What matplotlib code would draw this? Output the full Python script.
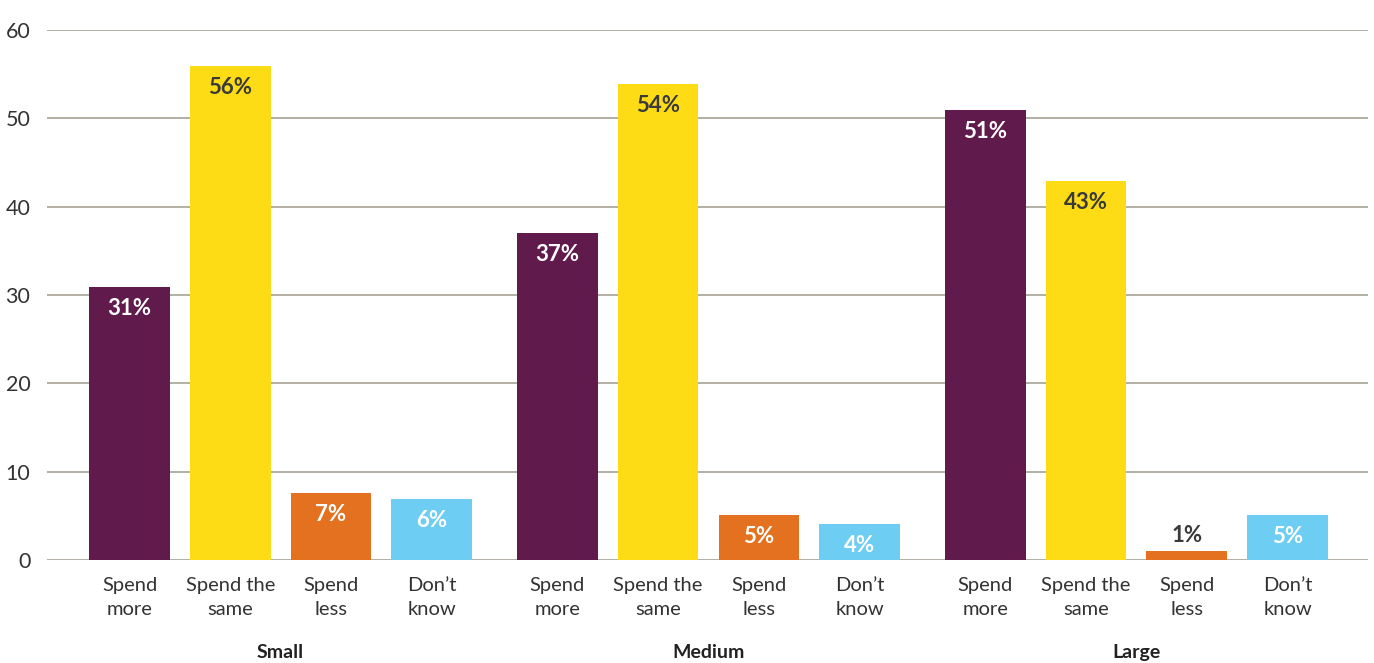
import matplotlib
matplotlib.use("Agg")
import matplotlib.pyplot as plt
import numpy as np

groups = ["Small", "Medium", "Large"]
categories = ["Spend\nmore", "Spend the\nsame", "Spend\nless", "Don\u2019t\nknow"]
values = {
    "Small":  [30.9, 55.9, 7.6, 6.9],
    "Medium": [37.0, 53.9, 5.1, 4.1],
    "Large":  [50.9, 42.9, 1.0, 5.1],
}
labels = {
    "Small":  ["31%", "56%", "7%", "6%"],
    "Medium": ["37%", "54%", "5%", "4%"],
    "Large":  ["51%", "43%", "1%", "5%"],
}
colors = ["#611A4C", "#FDDC16", "#E3711F", "#6DCDF2"]
label_colors = ["white", "#3A3A3A", "white", "white"]
yticks = [0, 10, 20, 30, 40, 50, 60]

plt.rcParams['font.family'] = ['Lato', 'DejaVu Sans']

fig = plt.figure(figsize=(13.74, 6.63), dpi=100)
ax = fig.add_axes([47/1374, 1 - 560/663, (1368-47)/1374, (560-30)/663])

group_step = 4.25
width = 0.80
for gi, g in enumerate(groups):
    xs = gi * group_step + np.arange(len(categories))
    bars = ax.bar(xs, values[g], width=width, color=colors, zorder=3)
    for ci, (b, v, lab) in enumerate(zip(bars, values[g], labels[g])):
        x = b.get_x() + b.get_width() / 2
        if v < 3:
            ax.annotate(lab, (x, v), xytext=(0, 11), textcoords="offset points",
                        ha="center", va="center", fontsize=16, fontweight="bold",
                        color="#3A3A3A", zorder=4)
        else:
            ax.annotate(lab, (x, v), xytext=(0, -15.5), textcoords="offset points",
                        ha="center", va="center", fontsize=16, fontweight="bold",
                        color=label_colors[ci], zorder=4)
        ax.annotate(categories[ci], (x, 0), xytext=(0, -12.5), textcoords="offset points",
                    ha="center", va="top", fontsize=14.5, color="#333333",
                    linespacing=1.5, annotation_clip=False)
    gx = gi * group_step + 1.5
    ax.annotate(g, (gx, 0), xytext=(0, -66.5), textcoords="offset points",
                ha="center", va="center", fontsize=14, fontweight="bold",
                color="#222222", annotation_clip=False)

ax.set_xlim(-0.82, 12.30)
ax.set_ylim(0, 60)
ax.set_yticks(yticks)
ax.set_yticklabels([str(t) for t in yticks], fontsize=15.5, color="#333333")
ax.tick_params(axis="y", length=0, pad=12)
ax.set_xticks([])
for s in ax.spines.values():
    s.set_visible(False)
ax.grid(axis="y", color="#A8A296", linewidth=1.2, zorder=0)
ax.set_axisbelow(True)

fig.savefig("out.png", dpi=100, facecolor="white")
